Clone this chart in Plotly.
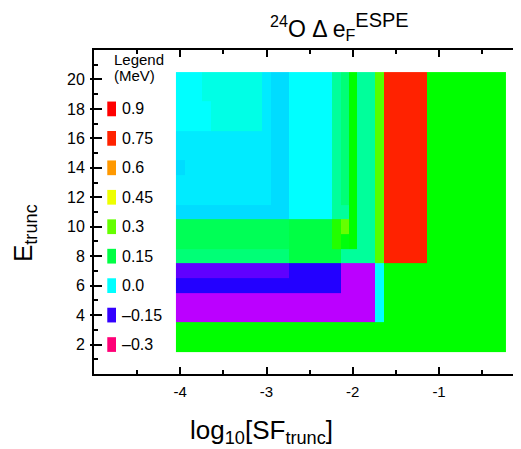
import colorsys
import numpy as np
import plotly.graph_objects as go

# ---------------- data ----------------
# bin edges of log10[SF_trunc] (columns of the map)
log_sf_edges = [-4.05, -3.95, -3.75, -3.65, -3.05, -2.95, -2.74, -2.24,
                -2.14, -2.05, -1.95, -1.74, -1.64, -1.14, -0.23]
# E_trunc values (rows of the map)
e_trunc = list(range(2, 21))

# Delta e_F^ESPE (MeV), one row per E_trunc (2 .. 20), one value per column
de_E2 = [0.21, 0.21, 0.21, 0.21, 0.21, 0.21, 0.21, 0.21, 0.21, 0.21, 0.21, 0.21, 0.21, 0.21]
de_E3 = [0.21, 0.21, 0.21, 0.21, 0.21, 0.21, 0.21, 0.21, 0.21, 0.21, 0.21, 0.21, 0.21, 0.21]
de_E4 = [-0.21, -0.21, -0.21, -0.21, -0.21, -0.21, -0.21, -0.21, -0.21, -0.21, -0.21, 0.0, 0.21, 0.21]
de_E5 = [-0.21, -0.21, -0.21, -0.21, -0.21, -0.21, -0.21, -0.21, -0.21, -0.21, -0.21, 0.0, 0.21, 0.21]
de_E6 = [-0.142, -0.142, -0.142, -0.142, -0.142, -0.142, -0.142, -0.142, -0.21, -0.21, -0.21, 0.0, 0.21, 0.21]
de_E7 = [-0.17, -0.17, -0.17, -0.17, -0.17, -0.17, -0.142, -0.142, -0.21, -0.21, -0.21, 0.0, 0.21, 0.21]
de_E8 = [0.11, 0.11, 0.11, 0.11, 0.11, 0.11, 0.15, 0.15, 0.08, 0.08, 0.08, 0.285, 0.75, 0.21]
de_E9 = [0.136, 0.136, 0.136, 0.136, 0.136, 0.136, 0.15, 0.24, 0.20, 0.21, 0.08, 0.285, 0.75, 0.21]
de_E10 = [0.136, 0.136, 0.136, 0.136, 0.136, 0.136, 0.15, 0.24, 0.30, 0.21, 0.08, 0.285, 0.75, 0.21]
de_E11 = [-0.017, -0.017, -0.017, -0.017, -0.017, -0.017, 0.0, 0.08, 0.08, 0.21, 0.08, 0.285, 0.75, 0.21]
de_E12 = [-0.01, -0.01, -0.01, -0.01, -0.01, -0.017, 0.0, 0.08, 0.11, 0.21, 0.08, 0.285, 0.75, 0.21]
de_E13 = [-0.01, -0.01, -0.01, -0.01, -0.01, -0.017, 0.0, 0.08, 0.11, 0.21, 0.08, 0.285, 0.75, 0.21]
de_E14 = [-0.017, -0.01, -0.01, -0.01, -0.01, -0.017, 0.0, 0.08, 0.11, 0.21, 0.08, 0.285, 0.75, 0.21]
de_E15 = [-0.01, -0.01, -0.01, -0.01, -0.01, -0.017, 0.0, 0.08, 0.11, 0.21, 0.08, 0.285, 0.75, 0.21]
de_E16 = [-0.01, -0.01, -0.01, -0.01, -0.01, -0.017, 0.0, 0.08, 0.11, 0.21, 0.08, 0.285, 0.75, 0.21]
de_E17 = [0.0, 0.0, 0.0, 0.02, -0.01, -0.017, 0.0, 0.08, 0.11, 0.21, 0.08, 0.285, 0.75, 0.21]
de_E18 = [0.0, 0.0, 0.0, 0.02, -0.01, -0.017, 0.0, 0.08, 0.11, 0.21, 0.08, 0.285, 0.75, 0.21]
de_E19 = [0.0, 0.0, 0.02, 0.02, -0.01, -0.017, 0.0, 0.08, 0.11, 0.21, 0.08, 0.285, 0.75, 0.21]
de_E20 = [0.0, 0.0, 0.02, 0.02, -0.01, -0.017, 0.0, 0.08, 0.11, 0.21, 0.08, 0.285, 0.75, 0.21]

# legend entries (MeV) and their text
legend_values = [0.9, 0.75, 0.6, 0.45, 0.3, 0.15, 0.0, -0.15, -0.3]
legend_labels = ["0.9", "0.75", "0.6", "0.45", "0.3", "0.15", "0.0", "\u20130.15", "\u20130.3"]

x_tick_vals = [-4, -3, -2, -1]
x_tick_text = ["-4", "-3", "-2", "-1"]
y_tick_vals = [2, 4, 6, 8, 10, 12, 14, 16, 18, 20]

z = [de_E2, de_E3, de_E4, de_E5, de_E6, de_E7, de_E8, de_E9, de_E10, de_E11,
     de_E12, de_E13, de_E14, de_E15, de_E16, de_E17, de_E18, de_E19, de_E20]

# ---------------- colour table (hue wheel) ----------------
hue_anchor_v = [-0.3, -0.15, 0.0, 0.15, 0.3, 0.45, 0.6, 0.75, 0.9]
hue_anchor_h = [332, 252, 180, 136, 96, 64, 36, 8, 0]
ZMIN, ZMAX = -0.3, 0.9


def colour_of(v):
    h = float(np.interp(v, hue_anchor_v, hue_anchor_h)) / 360.0
    r, g, b = colorsys.hsv_to_rgb(h, 1.0, 1.0)
    return "rgb(%d,%d,%d)" % (round(r * 255), round(g * 255), round(b * 255))


samples = np.linspace(ZMIN, ZMAX, 241)
colorscale = [[(v - ZMIN) / (ZMAX - ZMIN), colour_of(v)] for v in samples]
colorscale[-1][0] = 1.0

FONT = "Liberation Sans, Arial, Helvetica, sans-serif"

fig = go.Figure()
fig.add_trace(go.Heatmap(
    x=log_sf_edges, y=e_trunc, z=z,
    zmin=ZMIN, zmax=ZMAX, colorscale=colorscale,
    showscale=False, hoverinfo="skip",
))
# helper traces for extra axes
fig.add_trace(go.Scatter(x=[], y=[], yaxis="y2", showlegend=False))
fig.add_trace(go.Scatter(x=[], y=[], yaxis="y3", showlegend=False))

# legend swatches + labels (inside the frame, left side)
sw_x0, sw_x1, lab_x = -4.846, -4.745, -4.70
for i, (v, lab) in enumerate(zip(legend_values, legend_labels)):
    yc = y_tick_vals[-2] - 2 * i
    fig.add_shape(type="rect", xref="x", yref="y",
                  x0=sw_x0, x1=sw_x1, y0=yc - 0.5, y1=yc + 0.5,
                  fillcolor=colour_of(v), line=dict(width=0), layer="above")
    fig.add_annotation(x=lab_x, y=yc, xref="x", yref="y", text=lab,
                       showarrow=False, xanchor="left", yanchor="middle",
                       font=dict(family=FONT, size=16, color="black"))
fig.add_annotation(x=-4.79, y=21.35, xref="x", yref="y", text="Legend",
                   showarrow=False, xanchor="left", yanchor="middle",
                   font=dict(family=FONT, size=15, color="black"))
fig.add_annotation(x=-4.79, y=20.3, xref="x", yref="y", text="(MeV)",
                   showarrow=False, xanchor="left", yanchor="middle",
                   font=dict(family=FONT, size=15, color="black"))

# titles
fig.add_annotation(x=0.575, y=1.072, xref="paper", yref="paper",
                   text="<sup>24</sup>O \u0394 e<sub>F</sub><sup><span style='font-size:20px'>ESPE</span></sup>",
                   showarrow=False, xanchor="center", yanchor="middle",
                   font=dict(family=FONT, size=23, color="black"))
fig.add_annotation(x=0.393, y=-0.179, xref="paper", yref="paper",
                   text="log<sub>10</sub>[SF<sub>trunc</sub>]",
                   showarrow=False, xanchor="center", yanchor="middle",
                   font=dict(family=FONT, size=26, color="black"))
fig.add_annotation(x=-0.164, y=0.435, xref="paper", yref="paper",
                   text="E<sub>trunc</sub>", textangle=-90,
                   showarrow=False, xanchor="center", yanchor="middle",
                   font=dict(family=FONT, size=26, color="black"))

fig.update_layout(
    width=513, height=441,
    margin=dict(l=86, r=0, t=42, b=75),
    paper_bgcolor="white", plot_bgcolor="white",
    showlegend=False,
    font=dict(family=FONT, size=15, color="black"),
    xaxis=dict(range=[-5, -0.05], tickvals=x_tick_vals, ticktext=x_tick_text,
               ticks="inside", ticklen=7, tickwidth=2, tickcolor="black",
               minor=dict(dtick=0.5, tick0=0, ticks="inside", ticklen=4,
                          tickwidth=1.5, tickcolor="black"),
               showline=True, linewidth=2, linecolor="black", mirror="ticks",
               showgrid=False, zeroline=False, ticklabelstandoff=3,
               tickfont=dict(family=FONT, size=15, color="black")),
    yaxis=dict(range=[0, 22], tickvals=y_tick_vals,
               ticks="inside", ticklen=8, tickwidth=2, tickcolor="black",
               minor=dict(dtick=1, tick0=0, ticks="inside", ticklen=4,
                          tickwidth=1.5, tickcolor="black"),
               showline=True, linewidth=2, linecolor="black",
               showgrid=False, zeroline=False, ticklabelstandoff=4,
               tickfont=dict(family=FONT, size=16, color="black")),
    yaxis2=dict(range=[0, 22], overlaying="y", side="left", anchor="x",
                tickvals=y_tick_vals, ticks="outside", ticklen=3, tickwidth=2,
                tickcolor="black", showticklabels=False, showline=False,
                showgrid=False, zeroline=False),
    yaxis3=dict(range=[0, 22], overlaying="y", side="right", anchor="x",
                tickvals=y_tick_vals, ticks="inside", ticklen=4, tickwidth=2,
                tickcolor="black", showticklabels=False, showline=False,
                showgrid=False, zeroline=False),
)

fig.write_html("out.html")
